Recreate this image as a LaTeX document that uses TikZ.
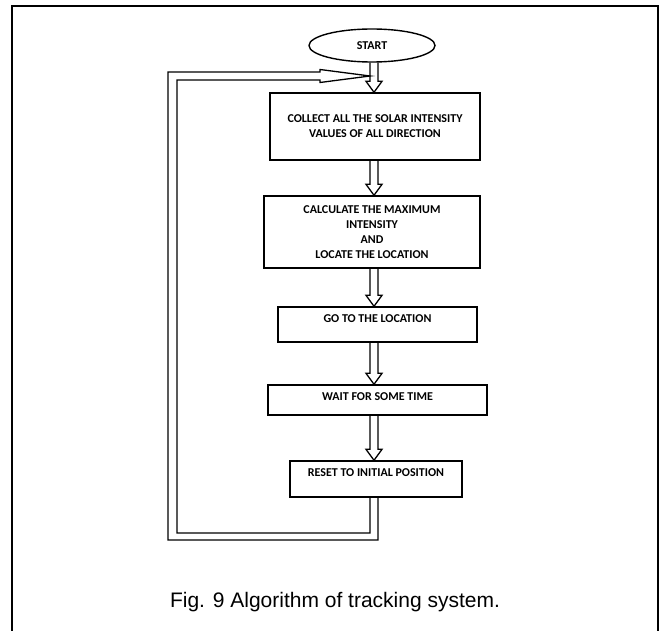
\documentclass[tikz,border=0pt]{standalone}
\usepackage{fontspec}
\setmainfont{Liberation Sans}
\newfontfamily\boxfont{Carlito}
\usetikzlibrary{calc,shapes.geometric}

% hollow arrow between two nodes, drawn on the flow axis
\newcommand{\hollowarrow}[2]{%
  \draw[flow] ($(#1.south -| axis)+(-4,0)$) -- ($(#2.north -| axis)+(-4,-11)$) -- ++(-4,0)
    -- (#2.north -| axis) -- ++(8,-11) -- ++(-4,0) -- ($(#1.south -| axis)+(4,0)$);}

\begin{document}
\begin{tikzpicture}[x=1pt,y=-1pt,
    stepbox/.style={draw=black, line width=1.4pt, inner sep=0pt, align=center,
      font=\boxfont\bfseries\fontsize{12}{15}\selectfont},
    flow/.style={black, line width=1.3pt, line join=miter}]
  \useasboundingbox (0,0) rectangle (665,631);
  % Frame
  \draw[black, line width=2pt] (12,631) -- (12,6) -- (658,6) -- (658,631);
  % Start
  \node[ellipse, draw=black, line width=1.4pt, minimum width=126pt, minimum height=33pt,
    inner sep=0pt, font=\boxfont\bfseries\fontsize{12}{15}\selectfont] (start) at (372,45.5) {START};
  % Steps
  \node[stepbox, minimum width=210pt, minimum height=67pt] (collect) at (375,126.5)
    {COLLECT ALL THE SOLAR INTENSITY\\VALUES OF ALL DIRECTION};
  \node[stepbox, minimum width=216pt, minimum height=72pt] (calc) at (372,232)
    {CALCULATE THE MAXIMUM\\INTENSITY\\AND\\LOCATE THE LOCATION};
  \node[stepbox, minimum width=199pt, minimum height=35pt, text depth=11pt] (goto) at (377.5,324.5)
    {GO TO THE LOCATION};
  \node[stepbox, minimum width=219pt, minimum height=30pt, text depth=6pt] (wait) at (377.5,400)
    {WAIT FOR SOME TIME};
  \node[stepbox, minimum width=172pt, minimum height=36pt, text depth=12pt] (reset) at (376,479)
    {RESET TO INITIAL POSITION};
  % Flow axis and loop corners
  \coordinate (axis) at (374,0);
  \coordinate (back) at (172.5,536.5);
  \coordinate (tip) at (370,76);
  % Arrows down
  \hollowarrow{start}{collect}
  \hollowarrow{collect}{calc}
  \hollowarrow{calc}{goto}
  \hollowarrow{goto}{wait}
  \hollowarrow{wait}{reset}
  % Loop back
  \draw[flow] ($(reset.south -| axis)+(4,0)$) -- ($(axis |- back)+(4,3.5)$)
    -- ($(back)+(-4.5,3.5)$) -- ($(back |- tip)+(-4.5,-4)$) -- ($(tip)+(-50,-4)$)
    -- ($(tip)+(-50,-6.5)$) -- (tip) -- ($(tip)+(-50,6.5)$) -- ($(tip)+(-50,4)$)
    -- ($(back |- tip)+(4.5,4)$) -- ($(back)+(4.5,-3.5)$)
    -- ($(axis |- back)+(-4,-3.5)$) -- ($(reset.south -| axis)+(-4,0)$);
  % Caption
  \node[anchor=base, font=\fontsize{21}{25}\selectfont] (caption) at (335,607)
    {Fig. 9 Algorithm of tracking system.};
\end{tikzpicture}
\end{document}
